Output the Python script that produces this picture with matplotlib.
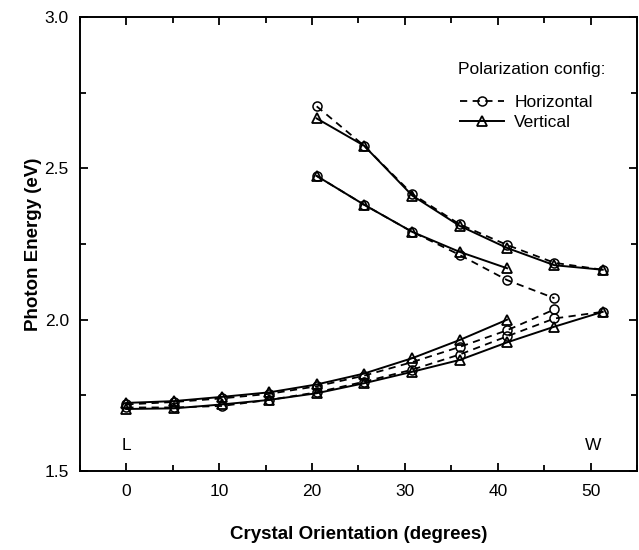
import numpy as np
import matplotlib
matplotlib.use("Agg")
import matplotlib.pyplot as plt
from matplotlib.lines import Line2D
from matplotlib.ticker import MultipleLocator

plt.rcParams['font.family'] = ['Liberation Sans', 'DejaVu Sans']

# crystal orientation (degrees)
x = [0, 5.1, 10.3, 15.4, 20.5, 25.6, 30.8, 35.9, 41.0, 46.1, 51.3]

# vertical polarization branches
v1_x = x[4:]
v1_y = [2.665, 2.575, 2.41, 2.31, 2.237, 2.18, 2.165]
v2_x = x[4:9]
v2_y = [2.475, 2.38, 2.29, 2.224, 2.17]
v3_x = x[:9]
v3_y = [1.725, 1.731, 1.745, 1.760, 1.786, 1.822, 1.873, 1.933, 2.000]
v4_x = x
v4_y = [1.705, 1.707, 1.720, 1.735, 1.757, 1.790, 1.828, 1.867, 1.925, 1.977, 2.026]

# horizontal polarization branches
h1_x = x[4:]
h1_y = [2.705, 2.575, 2.415, 2.315, 2.247, 2.188, 2.165]
h2_x = x[4:10]
h2_y = [2.475, 2.38, 2.29, 2.214, 2.131, 2.071]
h3_x = x[:10]
h3_y = [1.72, 1.728, 1.74, 1.755, 1.78, 1.815, 1.86, 1.91, 1.965, 2.034]
h4_x = x
h4_y = [1.71, 1.71, 1.715, 1.735, 1.76, 1.795, 1.835, 1.885, 1.945, 2.004, 2.026]

fig = plt.figure(figsize=(6.39, 5.5), dpi=100)
ax = fig.add_axes([0.125, 0.1436, 0.872, 0.8254])

hkw = dict(color='k', ls=(0, (4, 3)), lw=1.3, marker='o', ms=6.5,
           mfc='none', mec='k', mew=1.1)
vkw = dict(color='k', ls='-', lw=1.4, marker='^', ms=7,
           mfc='none', mec='k', mew=1.3)

for xx, yy in [(h1_x, h1_y), (h2_x, h2_y), (h3_x, h3_y), (h4_x, h4_y)]:
    ax.plot(xx, yy, **hkw)
for xx, yy in [(v1_x, v1_y), (v2_x, v2_y), (v3_x, v3_y), (v4_x, v4_y)]:
    ax.plot(xx, yy, **vkw)

ax.set_xlim(-5, 55)
ax.set_ylim(1.5, 3.0)
ax.xaxis.set_major_locator(MultipleLocator(10))
ax.xaxis.set_minor_locator(MultipleLocator(5))
ax.yaxis.set_major_locator(MultipleLocator(0.5))
ax.yaxis.set_minor_locator(MultipleLocator(0.25))
ax.yaxis.set_major_formatter(matplotlib.ticker.FormatStrFormatter('%.1f'))
ax.tick_params(which='both', direction='in', top=True, right=True,
               labelsize=12.5, width=1.3)
ax.tick_params(which='major', length=6, pad=9)
ax.tick_params(axis='y', which='major', pad=8)
ax.tick_params(which='minor', length=4)
for s in ax.spines.values():
    s.set_linewidth(1.4)

ax.set_xlabel('Crystal Orientation (degrees)', fontsize=13.5,
              fontweight='bold', labelpad=20)
ax.set_ylabel('Photon Energy (eV)', fontsize=13.5, fontweight='bold',
              labelpad=2)

ax.text(0, 1.56, 'L', fontsize=12.5, ha='center', va='bottom')
ax.text(50.3, 1.56, 'W', fontsize=12.5, ha='center', va='bottom')

ax.text(0.679, 0.885, 'Polarization config:', transform=ax.transAxes,
        fontsize=12.5, ha='left', va='center')
handles = [Line2D([], [], **hkw), Line2D([], [], **vkw)]
leg = ax.legend(handles, ['Horizontal', 'Vertical'], loc='upper left',
                bbox_to_anchor=(0.655, 0.863), frameon=False,
                fontsize=12.5, handlelength=2.5, handletextpad=0.6,
                labelspacing=0.3)

fig.savefig('out.png', dpi=100)
